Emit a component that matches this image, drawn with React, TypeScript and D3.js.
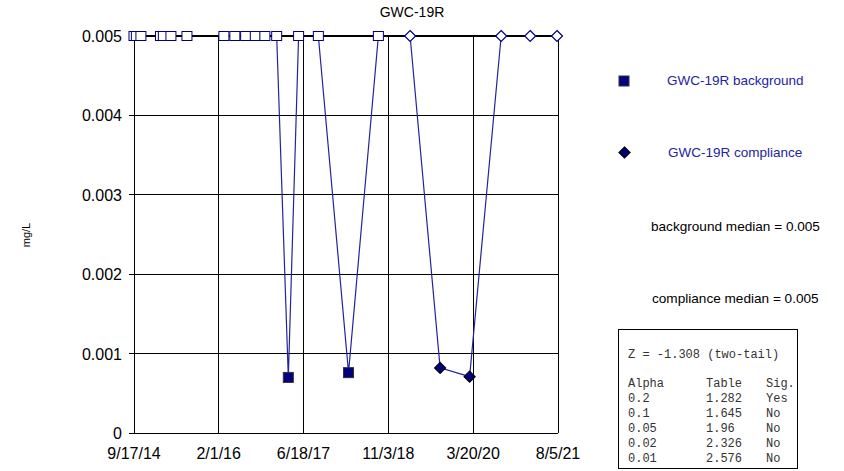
import { useEffect, useRef } from "react"
import * as d3 from "d3"

// background samples
const bgDates = [
  "9/17/14", "10/1/14", "10/28/14", "2/21/15", "3/10/15", "4/24/15", "7/28/15",
  "3/3/16", "5/7/16", "7/10/16", "9/5/16", "11/1/16", "1/10/17", "3/20/17",
  "5/20/17", "9/14/17", "3/12/18", "9/5/18",
]
const bgValues = [
  0.005, 0.005, 0.005, 0.005, 0.005, 0.005, 0.005,
  0.005, 0.005, 0.005, 0.005, 0.005, 0.005, 0.0007,
  0.005, 0.005, 0.00076, 0.005,
]
const bgNonDetect = [
  true, true, true, true, true, true, true,
  true, true, true, true, true, true, false,
  true, true, false, true,
]

// compliance samples
const cmpDates = ["3/12/19", "9/6/19", "2/28/20", "9/2/20", "2/21/21", "7/30/21"]
const cmpValues = [0.005, 0.00082, 0.00071, 0.005, 0.005, 0.005]
const cmpNonDetect = [true, false, false, true, true, true]

const xTickLabels = ["9/17/14", "2/1/16", "6/18/17", "11/3/18", "3/20/20", "8/5/21"]
const yTicks = [0, 0.001, 0.002, 0.003, 0.004, 0.005]

const statLines = [
  ["Alpha", "Table", "Sig."],
  ["0.2", "1.282", "Yes"],
  ["0.1", "1.645", "No"],
  ["0.05", "1.96", "No"],
  ["0.02", "2.326", "No"],
  ["0.01", "2.576", "No"],
]

const NAVY = "#000080"
const LINE = "#2323a0"
const SANS = "Arial, 'Liberation Sans', sans-serif"
const MONO = "'Courier New', 'Liberation Mono', monospace"

export default function App() {
  const svgRef = useRef<SVGSVGElement>(null)

  useEffect(() => {
    if (!svgRef.current) return
    const root = d3.select(svgRef.current)
    root.selectAll("*").remove()

    const parse = d3.timeParse("%m/%d/%y")
    const left = 134, right = 558, top = 36, bottom = 433
    const tickDates = xTickLabels.map(d => parse(d) as Date)

    const x = d3.scaleTime()
      .domain([tickDates[0], tickDates[tickDates.length - 1]])
      .range([left, right])
    const y = d3.scaleLinear().domain([0, 0.005]).range([bottom, top])

    const svg = root.append("g")

    // title
    svg.append("text")
      .attr("x", 412).attr("y", 17)
      .attr("text-anchor", "middle")
      .attr("font-family", SANS).attr("font-size", 14)
      .text("GWC-19R")

    // grid
    svg.selectAll(".hgrid")
      .data(yTicks)
      .enter().append("line")
      .attr("x1", left - 5).attr("x2", right)
      .attr("y1", d => y(d)).attr("y2", d => y(d))
      .attr("stroke", "#000").attr("stroke-width", 1)
      .attr("shape-rendering", "crispEdges")

    svg.selectAll(".vgrid")
      .data(tickDates)
      .enter().append("line")
      .attr("x1", d => x(d)).attr("x2", d => x(d))
      .attr("y1", top).attr("y2", bottom)
      .attr("stroke", "#000").attr("stroke-width", 1)
      .attr("shape-rendering", "crispEdges")

    // axis labels
    svg.selectAll(".ylab")
      .data(yTicks)
      .enter().append("text")
      .attr("x", left - 12).attr("y", d => y(d) + 6)
      .attr("text-anchor", "end")
      .attr("font-family", SANS).attr("font-size", 16)
      .text(d => String(d))

    svg.selectAll(".xlab")
      .data(xTickLabels)
      .enter().append("text")
      .attr("x", (_d, i) => x(tickDates[i])).attr("y", bottom + 26)
      .attr("text-anchor", "middle")
      .attr("font-family", SANS).attr("font-size", 16)
      .text(d => d)

    svg.append("text")
      .attr("transform", "translate(30,235) rotate(-90)")
      .attr("text-anchor", "middle")
      .attr("font-family", SANS).attr("font-size", 11)
      .text("mg/L")

    const bg = bgDates.map((d, i) => ({ date: parse(d) as Date, value: bgValues[i], nd: bgNonDetect[i] }))
    const cmp = cmpDates.map((d, i) => ({ date: parse(d) as Date, value: cmpValues[i], nd: cmpNonDetect[i] }))

    const line = d3.line<{ date: Date; value: number }>()
      .x(d => x(d.date))
      .y(d => y(d.value))

    svg.append("path").datum(bg)
      .attr("fill", "none").attr("stroke", LINE).attr("stroke-width", 1.2)
      .attr("d", line)
    svg.append("path").datum(cmp)
      .attr("fill", "none").attr("stroke", LINE).attr("stroke-width", 1.2)
      .attr("d", line)

    // heavy line along the top
    svg.append("line")
      .attr("x1", left).attr("x2", right + 3)
      .attr("y1", y(0.005)).attr("y2", y(0.005))
      .attr("stroke", "#000").attr("stroke-width", 2)

    // markers
    svg.selectAll(".bgpt")
      .data(bg)
      .enter().append("rect")
      .attr("x", d => x(d.date) - 5)
      .attr("y", d => y(d.value) - (d.nd ? 4.5 : 5))
      .attr("width", 10)
      .attr("height", d => d.nd ? 9 : 10)
      .attr("fill", d => d.nd ? "#fff" : NAVY)
      .attr("stroke", d => d.nd ? NAVY : "#333")
      .attr("stroke-width", 1)

    const diamond = "M0,-5.5L5.5,0L0,5.5L-5.5,0Z"
    svg.selectAll(".cmppt")
      .data(cmp)
      .enter().append("path")
      .attr("transform", d => `translate(${x(d.date)},${y(d.value)})`)
      .attr("d", diamond)
      .attr("fill", d => d.nd ? "#fff" : NAVY)
      .attr("stroke", d => d.nd ? NAVY : "#000")
      .attr("stroke-width", 1.2)

    // legend
    svg.append("rect")
      .attr("x", 619).attr("y", 76).attr("width", 10).attr("height", 10)
      .attr("fill", NAVY).attr("stroke", "#333")
    svg.append("text")
      .attr("x", 667).attr("y", 85)
      .attr("font-family", SANS).attr("font-size", 13.5).attr("fill", LINE)
      .text("GWC-19R background")

    svg.append("path")
      .attr("transform", "translate(624.5,152.5)")
      .attr("d", diamond)
      .attr("fill", NAVY).attr("stroke", "#000").attr("stroke-width", 1.2)
    svg.append("text")
      .attr("x", 668).attr("y", 157)
      .attr("font-family", SANS).attr("font-size", 13.5).attr("fill", LINE)
      .text("GWC-19R compliance")

    svg.append("text")
      .attr("x", 651).attr("y", 231)
      .attr("font-family", SANS).attr("font-size", 13.6)
      .text("background median = 0.005")
    svg.append("text")
      .attr("x", 652).attr("y", 303)
      .attr("font-family", SANS).attr("font-size", 13.6)
      .text("compliance median = 0.005")

    // stats box
    svg.append("rect")
      .attr("x", 618.5).attr("y", 329.5).attr("width", 179).attr("height", 139)
      .attr("fill", "#fff").attr("stroke", "#000").attr("stroke-width", 1)
    const mono = svg.append("g")
      .attr("font-family", MONO).attr("font-size", 12).attr("fill", "#333")
    mono.append("text").attr("x", 628).attr("y", 358).text("Z = -1.308 (two-tail)")
    const colX = [628, 706, 766]
    statLines.forEach((row, r) => {
      row.forEach((cell, c) => {
        mono.append("text")
          .attr("x", colX[c]).attr("y", 387 + r * 15)
          .text(cell)
      })
    })
  }, [])

  return (
    <div style={{ position: "absolute", left: 0, top: 0 }}>
      <svg ref={svgRef} width={844} height={471} style={{ display: "block", background: "#fff" }}></svg>
    </div>
  )
}
